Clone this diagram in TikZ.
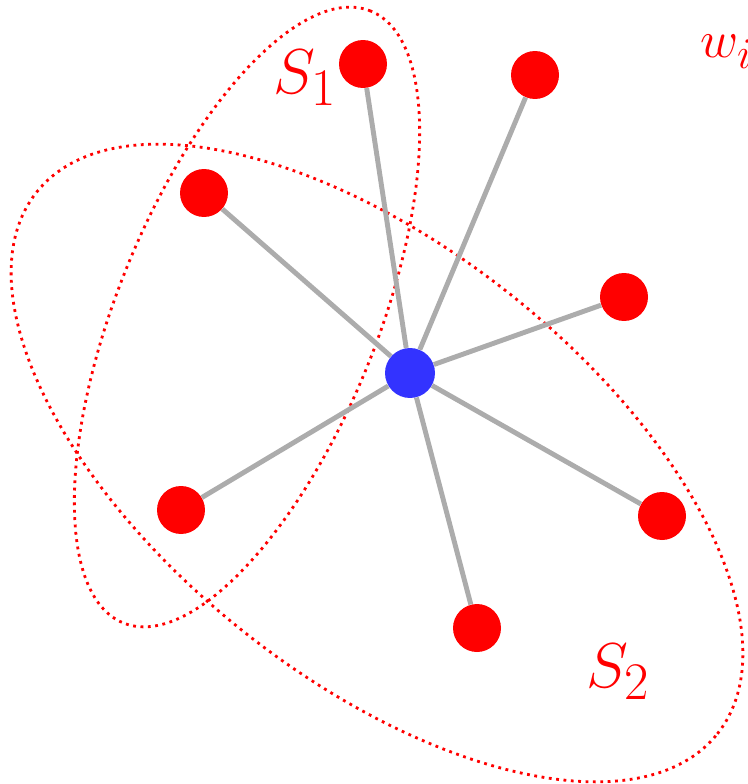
\documentclass[tikz,border=0pt]{standalone}

\tikzset{
  leaf/.style={circle,fill=red,minimum size=0.96cm,inner sep=0pt},
  hub/.style={circle,fill=blue!80!white,minimum size=1cm,inner sep=0pt},
  link/.style={draw=gray!65,line width=2.8pt},
  setline/.style={draw=red,line width=1.6pt,dash pattern=on 1.6pt off 2.6pt},
  setlabel/.style={text=red,font=\Huge}
}
\newcommand{\biglabel}[1]{\scalebox{1.45}{$#1$}}

\begin{document}
\begin{tikzpicture}[x=0.02cm,y=0.02cm]
  \useasboundingbox (0,0) rectangle (747,-784);
  % the two sets
  \draw[setline,rotate around={68:(247,-317)}] (247,-317) ellipse [x radius=330, y radius=130];
  \draw[setline,rotate around={-38.5:(377,-463)}] (377,-463) ellipse [x radius=435, y radius=215];
  % vertices
  \node[hub] (c) at (410,-373) {};
  \foreach \name/\x/\y in {a/363/64, b/535/75, d/204/193, e/624/297, f/181/510, g/662/516, h/477/628}
    \node[leaf] (\name) at (\x,-\y) {};
  \foreach \name in {a,b,d,e,f,g,h}
    \draw[link] (c) -- (\name);
  % labels
  \node[setlabel] (s1) at (305,-78) {\biglabel{S_1}};
  \node[setlabel] (s2) at (618,-672) {\biglabel{S_2}};
  \node[setlabel,anchor=west,inner sep=0pt] (w) at (700,-52) {\scalebox{1.2}{$w_i$}};
\end{tikzpicture}
\end{document}
